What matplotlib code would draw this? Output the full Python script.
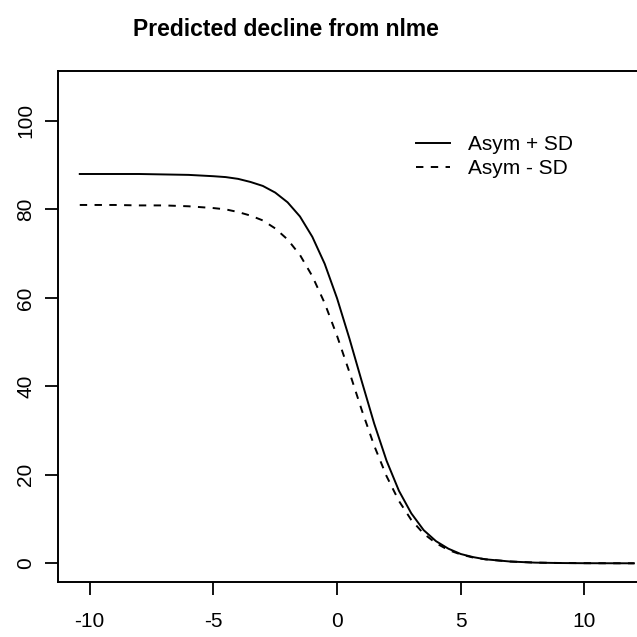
#!/usr/bin/env python3
"""Predicted decline from nlme: Asym +/- SD curves (R base-graphics look)."""
import matplotlib

matplotlib.use("Agg")
import matplotlib.pyplot as plt  # noqa: E402

# values
x_vals = [-10.4, -9, -8, -7, -6, -5, -4.5, -4, -3.5, -3, -2.5, -2, -1.5, -1,
          -0.5, 0, 0.5, 1, 1.5, 2, 2.5, 3, 3.5, 4, 4.5, 5, 5.5, 6, 7, 8, 9,
          10, 11, 12]
asym_plus = [88.0, 88.0, 88.0, 87.9, 87.8, 87.5, 87.3, 86.9, 86.2, 85.3, 83.8,
             81.6, 78.4, 73.8, 67.7, 59.9, 50.8, 41.1, 31.6, 23.2, 16.4, 11.3,
             7.5, 5.0, 3.3, 2.1, 1.4, 0.9, 0.4, 0.15, 0.06, 0.02, 0.01, 0.0]
asym_minus = [81.0, 81.0, 80.9, 80.9, 80.7, 80.3, 80.0, 79.4, 78.6, 77.5, 75.7,
              73.2, 69.7, 64.9, 58.8, 51.4, 43.2, 34.6, 26.6, 19.7, 14.1, 9.8,
              6.7, 4.55, 3.0, 2.0, 1.3, 0.9, 0.4, 0.16, 0.07, 0.03, 0.01, 0.0]
labels = ["Asym + SD", "Asym - SD"]
x_ticks = [-10, -5, 0, 5, 10]
y_ticks = [0, 20, 40, 60, 80, 100]
title = "Predicted decline from nlme"

W = H = 637
plt.rcParams["font.family"] = ["Liberation Sans", "DejaVu Sans"]
plt.rcParams["axes.unicode_minus"] = False  # R prints a plain hyphen

fig = plt.figure(figsize=(W / 100, H / 100), dpi=100)
# axes frame in pixels: left 58, top 70.7, bottom 581.7; right edge runs past the crop
ax = fig.add_axes([58 / W, (H - 581.7) / H, 598.2 / W, 511.0 / H])

ax.plot(x_vals, asym_plus, color="black", lw=1.4, label=labels[0])
ax.plot(x_vals, asym_minus, color="black", lw=1.4, linestyle=(0, (3.8, 3.8)),
        label=labels[1])

ax.set_xlim(-11.28, 12.9)
ax.set_ylim(-4.16, 111.35)
ax.set_xticks(x_ticks)
ax.set_yticks(y_ticks)
ax.tick_params(axis="both", direction="out", length=9.5, width=1.3,
               labelsize=15, colors="black")
ax.tick_params(axis="x", pad=12.5)
ax.tick_params(axis="y", pad=7)
for lab in ax.get_yticklabels():
    lab.set_rotation(90)
    lab.set_va("center")
for sp in ax.spines.values():
    sp.set_linewidth(1.4)

leg = ax.legend(loc="upper left", bbox_to_anchor=(416 / W, 1 - 135 / H),
                bbox_transform=fig.transFigure, frameon=False, fontsize=15,
                handlelength=1.65, handletextpad=0.85, labelspacing=0.25,
                borderpad=0, borderaxespad=0)

fig.text(286 / W, 1 - 36 / H, title, ha="center", va="baseline",
         fontsize=16.5, fontweight="bold")

fig.savefig("out.png", dpi=100)
plt.close(fig)
